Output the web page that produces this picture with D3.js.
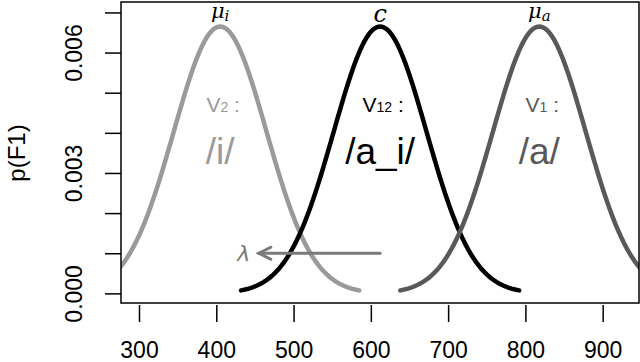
<!DOCTYPE html>
<html lang="en">
<head>
<meta charset="utf-8">
<title>p(F1)</title>
<script src="https://d3js.org/d3.v7.min.js"></script>
<style>
  body { margin: 0; background: #fff; font-family: 'Liberation Sans', Arial, sans-serif; }
</style>
</head>
<body>
<div id="chart"></div>
<script>
// the three vowel distributions (F1 in Hz)
var vowels = ["/i/", "/a_i/", "/a/"];
var labels = ["V2", "V12", "V1"];
var means = [405, 612, 818];
var sds = [60, 60, 60];
var colors = ["#9a9a9a", "#000000", "#595959"];
var peakLabels = ["\u03bc", "c", "\u03bc"];
var peakSubs = ["i", "", "a"];
var xTicks = [300, 400, 500, 600, 700, 800, 900];
var yTicks = [0, 0.001, 0.002, 0.003, 0.004, 0.005, 0.006, 0.007];
var yTickLabels = ["0.000", "", "", "0.003", "", "", "0.006", ""];
// lambda shift arrow
var arrowFrom = [612, 0.001];
var arrowTo = [455, 0.001];

var W = 640, H = 362;
var svg = d3.select("#chart").append("svg")
  .attr("width", W).attr("height", H);

var x = d3.scaleLinear().domain([276.7, 947]).range([121, 639]);
var y = d3.scaleLinear().domain([-0.00024, 0.00726]).range([303, 2]);

function dnorm(v, m, s) {
  return Math.exp(-0.5 * Math.pow((v - m) / s, 2)) / (s * Math.sqrt(2 * Math.PI));
}

// clip to the plot box
svg.append("clipPath").attr("id", "box")
  .append("rect").attr("x", 121).attr("y", 2).attr("width", 518).attr("height", 301);

var line = d3.line().x(function(d) { return x(d[0]); }).y(function(d) { return y(d[1]); });

var plot = svg.append("g").attr("clip-path", "url(#box)");

means.forEach(function(m, i) {
  var pts = d3.range(m - 3 * sds[i], m + 3 * sds[i] + 0.01, 2).map(function(v) {
    return [v, dnorm(v, m, sds[i])];
  });
  plot.append("path")
    .attr("d", line(pts))
    .attr("fill", "none")
    .attr("stroke", colors[i])
    .attr("stroke-width", 4.5)
    .attr("stroke-linecap", "round");
});

// arrow
var ag = plot.append("g").attr("stroke", "#7a7a7a").attr("stroke-width", 3)
  .attr("stroke-linecap", "round").attr("fill", "none");
ag.append("line")
  .attr("x1", x(arrowFrom[0])).attr("y1", y(arrowFrom[1]))
  .attr("x2", x(arrowTo[0])).attr("y2", y(arrowTo[1]));
ag.append("path")
  .attr("d", "M" + (x(arrowTo[0]) + 12) + "," + (y(arrowTo[1]) - 6) +
             "L" + x(arrowTo[0]) + "," + y(arrowTo[1]) +
             "L" + (x(arrowTo[0]) + 12) + "," + (y(arrowTo[1]) + 6));
svg.append("text")
  .attr("x", x(arrowTo[0]) - 15).attr("y", y(arrowTo[1]) + 8)
  .attr("text-anchor", "middle")
  .attr("font-family", "'DejaVu Sans', sans-serif").attr("font-style", "italic")
  .attr("font-size", 22).attr("fill", "#7a7a7a")
  .text("\u03bb");

// labels inside curves
means.forEach(function(m, i) {
  var t = svg.append("text")
    .attr("x", x(m) + 3).attr("y", 112)
    .attr("text-anchor", "middle")
    .attr("font-size", 21).attr("fill", colors[i]);
  t.append("tspan").text(labels[i].charAt(0));
  t.append("tspan").attr("font-size", 14).text(labels[i].slice(1));
  t.append("tspan").text(" :");

  svg.append("text")
    .attr("x", x(m)).attr("y", 164)
    .attr("text-anchor", "middle")
    .attr("font-size", 37).attr("fill", colors[i])
    .text(vowels[i]);

  var p = svg.append("text")
    .attr("x", x(m)).attr("y", peakSubs[i] ? 18 : 22)
    .attr("text-anchor", "middle")
    .attr("font-family", "'DejaVu Serif', serif").attr("font-style", "italic")
    .attr("font-size", peakSubs[i] ? 21 : 24).attr("fill", "#000");
  p.append("tspan").text(peakLabels[i]);
  if (peakSubs[i]) p.append("tspan").attr("font-size", 15).attr("dy", 3).text(peakSubs[i]);
});

// box
svg.append("rect").attr("x", 121).attr("y", 2).attr("width", 518).attr("height", 301)
  .attr("fill", "none").attr("stroke", "#000").attr("stroke-width", 1.5);

// x axis
var xAxis = svg.append("g").attr("transform", "translate(0,305)")
  .call(d3.axisBottom(x).tickValues(xTicks).tickSize(17).tickPadding(20).tickFormat(d3.format("d")));
xAxis.select(".domain").remove();
xAxis.selectAll("line").attr("stroke-width", 1.5);
xAxis.selectAll("text").attr("font-size", 23).attr("font-family", "'Liberation Sans', Arial, sans-serif")
  .attr("fill", "#000");

// y axis
var yAxis = svg.append("g").attr("transform", "translate(121,0)")
  .call(d3.axisLeft(y).tickValues(yTicks).tickSize(16).tickFormat(function(d, i) { return yTickLabels[i]; }));
yAxis.select(".domain").remove();
yAxis.selectAll("line").attr("stroke-width", 1.5);
yAxis.selectAll("text")
  .attr("font-size", 23).attr("font-family", "'Liberation Sans', Arial, sans-serif").attr("fill", "#000")
  .attr("text-anchor", "middle").attr("x", null).attr("dy", null)
  .attr("transform", "translate(-39,0) rotate(-90)");

svg.append("text")
  .attr("transform", "translate(25,153) rotate(-90)")
  .attr("text-anchor", "middle")
  .attr("font-size", 24)
  .text("p(F1)");
</script>
</body>
</html>
